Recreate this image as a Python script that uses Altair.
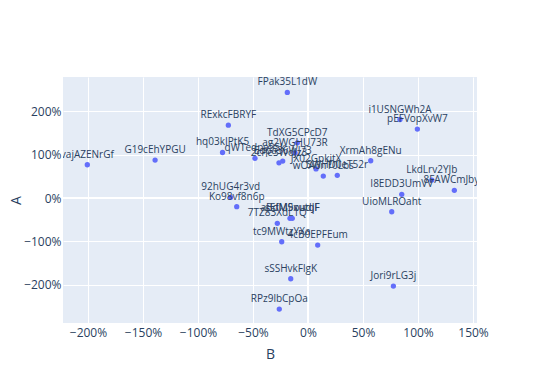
import altair as alt
import pandas as pd

labels = ["vajAZENrGf", "G19cEhYPGU", "RExkcFBRYF", "hq03kIPtK5", "FPak35L1dW",
          "qWTedpa9Sk", "Edpa36WJ73", "2cPe3WdJz3", "TdXG5CPcD7", "ag2WGHU73R",
          "JX02GpkjtX", "wOA6nT0Lbs", "SWHD0eT52r", "XrmAh8gENu", "i1USNGWh2A",
          "pEFVopXvW7", "LkdLrv2YJb", "8FAWCmJbyV", "I8EDD3UmVV", "UioMLROaht",
          "Jori9rLG3j", "92hUG4r3vd", "Ko98vf8n6p", "aBdM9xutqF", "sEfM5oudJF",
          "7TZ83XdL1Q", "tc9MWtzYXa", "4cB0EPFEum", "sSSHvkFlgK", "RPz9lbCpOa"]
b_vals = [-2.006, -1.39, -0.724, -0.777, -0.188,
          -0.482, -0.23, -0.264, -0.097, -0.118,
          0.073, 0.139, 0.266, 0.57, 0.836,
          0.994, 1.125, 1.33, 0.852, 0.761,
          0.776, -0.703, -0.648, -0.164, -0.143,
          -0.279, -0.239, 0.088, -0.157, -0.261]
a_vals = [0.767, 0.875, 1.68, 1.05, 2.435,
          0.915, 0.853, 0.813, 1.274, 1.04,
          0.67, 0.507, 0.523, 0.86, 1.81,
          1.59, 0.415, 0.177, 0.085, -0.316,
          -2.03, 0.016, -0.20, -0.468, -0.468,
          -0.583, -1.007, -1.083, -1.86, -2.56]

x_ticks = [-2, -1.5, -1, -0.5, 0, 0.5, 1, 1.5]
y_ticks = [-2, -1, 0, 1, 2]

df = pd.DataFrame({"label": labels, "B": b_vals, "A": a_vals})

font = "Open Sans"
txt_color = "#2a3f5f"
x_dom = [-2.227, 1.536]
y_dom = [-2.88, 2.79]

x_enc = alt.X("B:Q", title="B",
              scale=alt.Scale(domain=x_dom, nice=False, zero=False),
              axis=alt.Axis(values=x_ticks, format=".0%", titleBaseline="middle",
                            titleY=31, labelPadding=4))
y_enc = alt.Y("A:Q", title="A",
              scale=alt.Scale(domain=y_dom, nice=False, zero=False),
              axis=alt.Axis(values=y_ticks, format=".0%", titleX=-47,
                            titleBaseline="middle", labelPadding=2))

base = alt.Chart(df)

zero_x = alt.Chart(pd.DataFrame({"v": [0]})).mark_rule(color="white", strokeWidth=2).encode(
    x=alt.X("v:Q", scale=alt.Scale(domain=x_dom, nice=False, zero=False)))
zero_y = alt.Chart(pd.DataFrame({"v": [0]})).mark_rule(color="white", strokeWidth=2).encode(
    y=alt.Y("v:Q", scale=alt.Scale(domain=y_dom, nice=False, zero=False)))

points = base.mark_point(filled=True, size=28, color="#636efa", opacity=1, clip=True).encode(
    x=x_enc, y=y_enc)
texts = base.mark_text(font=font, fontSize=10, color=txt_color, baseline="middle",
                       dy=-10, clip=True).encode(x=x_enc, y=y_enc, text="label:N")

chart = alt.layer(zero_x, zero_y, points, texts).properties(
    width=414, height=246,
    autosize=alt.AutoSizeParams(type="none"),
    padding={"left": 55, "top": 69, "right": 55, "bottom": 55},
    background="white",
).configure_view(fill="#E5ECF6", stroke=None).configure_axis(
    gridColor="white", gridWidth=1, domain=False, ticks=False,
    labelFont=font, labelFontSize=12, labelColor=txt_color,
    titleFont=font, titleFontSize=14, titleColor=txt_color, titleFontWeight="normal",
)

chart.save("out.html", embed_options={"renderer": "svg", "actions": False})
